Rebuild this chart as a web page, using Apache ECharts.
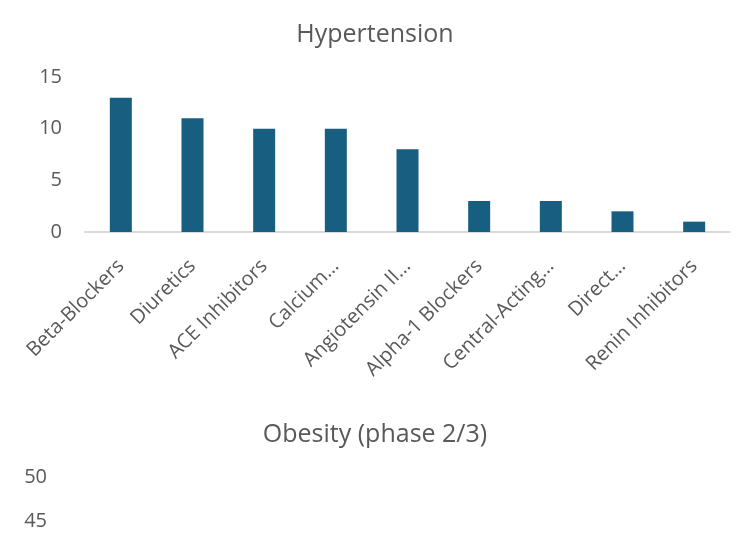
<!DOCTYPE html>
<html>
<head>
<meta charset="utf-8">
<script src="https://cdn.jsdelivr.net/npm/echarts@6/dist/echarts.min.js"></script>
<style>
  html, body { margin: 0; padding: 0; background: #fff; }
  #chart { width: 750px; height: 536px; }
</style>
</head>
<body>
<div id="chart"></div>
<script>
const drugClasses = ['Beta-Blockers', 'Diuretics', 'ACE Inhibitors', 'Calcium…', 'Angiotensin II…',
  'Alpha-1 Blockers', 'Central-Acting…', 'Direct…', 'Renin Inhibitors'];
const hypertensionCounts = [13, 11, 10, 10, 8, 3, 3, 2, 1];
// obesity chart is cut off by the frame: only the 45 and 50 ticks are visible
const obesityTicks = [45, 50, 5]; // min, max, step

const FONT = 'Open Sans, Liberation Sans, sans-serif';
const GREY = '#595959';
const BAR = '#175e81';

const chart = echarts.init(document.getElementById('chart'));

const titleStyle = { fontFamily: FONT, fontSize: 25, fontWeight: 'normal', color: GREY };
const yLabel = { margin: 23, fontFamily: FONT, fontSize: 20, color: GREY };

const option = {
  animation: false,
  title: [
    { text: 'Hypertension', left: 'center', top: 17, textStyle: titleStyle },
    { text: 'Obesity (phase 2/3)', left: 'center', top: 417, textStyle: titleStyle },
  ],
  grid: [
    { left: 85, top: 77, width: 645, height: 155 },
    { left: 70, top: 477, width: 645, height: 44 },
  ],
  xAxis: [
    {
      gridIndex: 0,
      type: 'category',
      data: drugClasses,
      axisLine: { lineStyle: { color: '#d9d9d9', width: 2 } },
      axisTick: { show: false },
      axisLabel: { rotate: 45, interval: 0, margin: 31, fontFamily: FONT, fontSize: 20, color: GREY },
    },
    {
      gridIndex: 1,
      type: 'category',
      data: [],
      show: false,
    },
  ],
  yAxis: [
    {
      gridIndex: 0,
      type: 'value',
      min: 0,
      max: 15,
      interval: 5,
      splitLine: { show: false },
      axisLine: { show: false },
      axisTick: { show: false },
      axisLabel: yLabel,
    },
    {
      gridIndex: 1,
      type: 'value',
      min: obesityTicks[0],
      max: obesityTicks[1],
      interval: obesityTicks[2],
      splitLine: { show: false },
      axisLine: { show: false },
      axisTick: { show: false },
      axisLabel: yLabel,
    },
  ],
  series: [
    {
      type: 'bar',
      xAxisIndex: 0,
      yAxisIndex: 0,
      data: hypertensionCounts,
      barWidth: 22,
      itemStyle: { color: BAR },
    },
  ],
};

chart.setOption(option);
</script>
</body>
</html>
